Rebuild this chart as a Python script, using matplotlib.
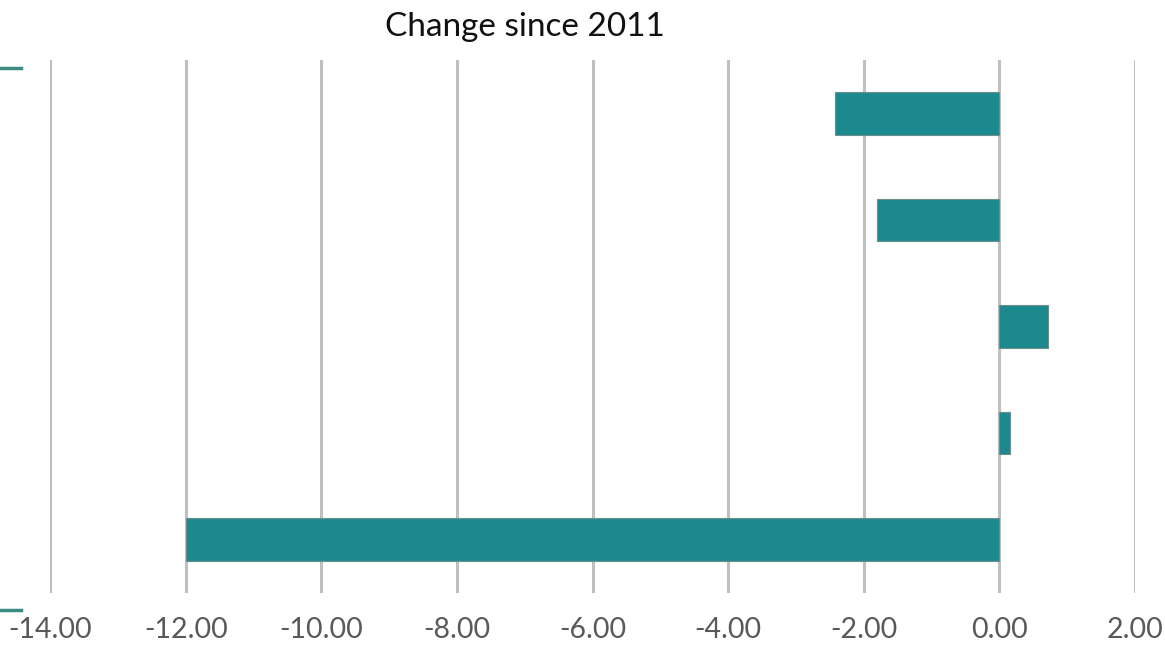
import matplotlib.pyplot as plt
from matplotlib.lines import Line2D

categories = ["A", "B", "C", "D", "E"]
changes = [-2.43, -1.80, 0.71, 0.16, -12.00]
xticks = [-14, -12, -10, -8, -6, -4, -2, 0, 2]

bar_color = "#1B898E"
grid_color = "#BFBFBF"

fig = plt.figure(figsize=(11.65, 6.48), dpi=100)
ax = fig.add_axes([50 / 1165, 1 - 593 / 648, 1085 / 1165, 533 / 648])

ypos = list(range(len(categories)))
ax.barh(ypos, changes, height=0.4, color=bar_color,
        edgecolor="#6E8E8E", linewidth=0.8, zorder=3)

ax.set_xlim(-14, 2)
ax.set_ylim(len(categories) - 0.5, -0.5)
ax.set_xticks(xticks)
ax.set_xticklabels([f"{v:.2f}" for v in xticks],
                   fontfamily="Lato", fontsize=20.5, color="#595959")
ax.tick_params(axis="x", length=0, pad=17)
ax.set_yticks([])
ax.xaxis.grid(True, color=grid_color, linewidth=2.2, zorder=0)
for s in ax.spines.values():
    s.set_visible(False)

fig.text(525 / 1165, 1 - 27 / 648, "Change since 2011", ha="center", va="center",
         fontfamily="Lato", fontsize=24, color="#111111")

# cropped fragments at the left edge
for yy in (68, 610):
    fig.add_artist(Line2D([0, 21 / 1165], [1 - yy / 648, 1 - yy / 648],
                          color="#3C8C84", linewidth=2.5, transform=fig.transFigure))

fig.savefig("out.png", dpi=100)
